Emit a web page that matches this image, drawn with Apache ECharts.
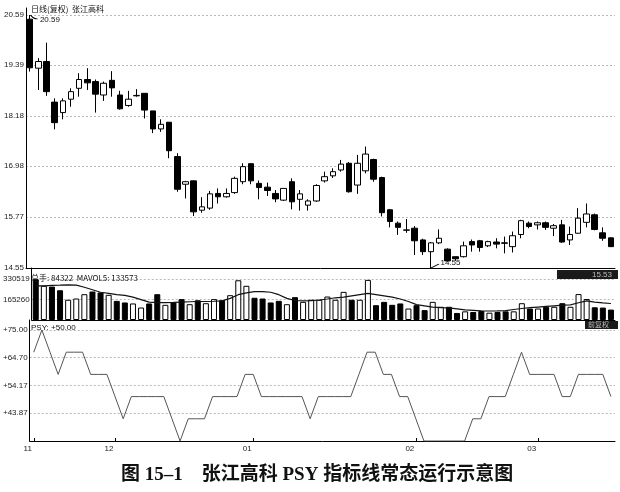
<!DOCTYPE html>
<html><head><meta charset="utf-8">
<script src="https://cdn.jsdelivr.net/npm/echarts@6/dist/echarts.min.js"></script>
<style>html,body{margin:0;padding:0;background:#fff}#c{width:620px;height:492px}</style>
</head><body><div id="c"></div>
<script>
// ---- data ----
const openPrices = [20.49,19.32,19.48,18.51,18.26,18.58,18.84,19.05,19.00,18.68,
19.03,18.68,18.43,18.66,18.72,18.30,17.87,18.03,17.21,16.55,
16.63,15.93,15.98,16.33,16.25,16.35,16.61,17.04,16.57,16.48,
16.33,16.17,16.61,16.19,16.05,16.15,16.63,16.75,16.89,17.05,
16.53,16.87,17.14,16.71,15.94,15.62,15.45,15.50,15.22,14.94,
15.15,15.00,14.82,14.82,15.18,15.20,15.08,15.17,15.15,15.06,
15.35,15.62,15.58,15.63,15.50,15.58,15.22,15.38,15.64,15.82,
15.39,15.27];
const closePrices = [19.33,19.48,18.76,18.02,18.54,18.76,19.05,18.97,18.70,18.96,
18.85,18.35,18.58,18.67,18.32,17.87,17.98,17.35,16.43,16.61,
15.89,16.01,16.32,16.25,16.33,16.69,16.97,16.63,16.47,16.40,
16.20,16.45,16.13,16.32,16.15,16.52,16.73,16.85,17.03,16.37,
17.05,17.27,16.67,15.87,15.66,15.52,15.46,15.20,14.94,15.15,
15.26,14.72,14.77,15.08,15.10,15.04,15.18,15.12,15.14,15.32,
15.68,15.54,15.63,15.52,15.56,15.17,15.35,15.74,15.84,15.47,
15.26,15.06];
const lowPrices = [19.24,18.80,18.66,17.86,18.10,18.40,18.64,18.80,18.26,18.54,
18.64,18.33,18.40,18.64,18.12,17.77,17.80,17.17,16.37,16.21,
15.79,15.87,15.94,16.09,16.23,16.32,16.55,16.55,16.19,16.27,
16.12,16.15,15.95,15.92,15.92,16.13,16.59,16.70,16.85,16.35,
16.32,16.81,16.61,15.78,15.52,15.34,15.39,14.86,14.86,14.55,
15.12,14.70,14.72,14.80,14.94,14.94,15.05,15.02,14.90,14.92,
15.26,15.50,15.47,15.46,15.31,15.15,15.10,15.37,15.52,15.45,
15.20,15.05];
const highPrices = [20.59,19.56,19.93,18.60,18.60,18.84,19.20,19.32,19.05,19.00,
19.25,18.78,18.78,18.82,18.72,18.30,18.10,18.03,17.29,16.63,
16.64,16.24,16.39,16.45,16.45,16.73,17.05,17.05,16.64,16.59,
16.41,16.45,16.69,16.41,16.19,16.55,16.85,16.93,17.13,17.08,
17.25,17.45,17.16,16.73,15.96,15.66,15.72,15.55,15.25,15.17,
15.47,15.02,14.82,15.18,15.23,15.22,15.20,15.26,15.30,15.42,
15.70,15.66,15.66,15.66,15.60,15.70,15.54,15.98,16.09,15.85,
15.52,15.28];
const volumes = [330519,277000,271000,241000,164000,174000,209000,231000,223000,204000,
155000,142000,134000,101000,134000,209000,123000,142000,169000,128000,
160000,136000,169000,160000,201000,322000,277000,180000,174000,142000,
155000,128000,185000,147000,164000,164000,190000,164000,228000,164000,
164000,325000,120000,147000,123000,134000,93000,120000,80000,147000,
107000,107000,57000,70000,65000,73000,59000,65000,70000,70000,
136000,93000,93000,107000,107000,136000,107000,210000,170000,103000,
100600,84322];
const mavol5 = [277000,276000,280000,282000,285000,283000,265000,245000,225000,215000,
205000,200000,185000,165000,145000,140000,140000,142000,145000,148000,
150000,150000,152000,155000,175000,205000,220000,230000,230000,225000,
205000,175000,158000,155000,157000,162000,170000,180000,185000,195000,
205000,215000,205000,195000,185000,170000,150000,125000,115000,105000,
100000,98000,90000,82000,78000,74000,73000,74000,76000,85000,
93000,100000,105000,110000,115000,120000,123000,140000,155000,145000,
138000,133573];
const psy = [66.67,75.00,66.67,58.33,66.67,66.67,66.67,58.33,58.33,58.33,
50.00,41.67,50.00,50.00,50.00,50.00,50.00,41.67,33.33,41.67,
41.67,41.67,50.00,50.00,50.00,50.00,58.33,58.33,50.00,50.00,
50.00,50.00,50.00,50.00,41.67,50.00,50.00,50.00,50.00,50.00,
58.33,66.67,66.67,58.33,58.33,50.00,50.00,41.67,33.33,33.33,
33.33,33.33,33.33,33.33,41.67,41.67,50.00,50.00,50.00,58.33,
66.67,58.33,58.33,58.33,58.33,50.00,50.00,58.33,58.33,58.33,
58.33,50.00];
const monthLabels = ['11','12','01','02','03'];
const monthStartIndex = [0,10,27,47,62];
const priceTicks = [20.59,19.39,18.18,16.98,15.77,14.55];
const volumeTicks = [330519,165260];
const psyTicks = [75.00,64.70,54.17,43.87];
const stockName = '张江高科';
const captionText = '图 15–1　张江高科 PSY 指标线常态运行示意图';

// ---- build ----
const categories = openPrices.map((_, i) => String(i));
const candleData = openPrices.map((o, i) => [o, closePrices[i], lowPrices[i], highPrices[i]]);
const isUp = i => closePrices[i] >= openPrices[i];
const volData = volumes.map((v, i) => ({value: v, itemStyle: {color: isUp(i) ? '#fff' : '#000'}}));
const hiIdx = highPrices.indexOf(Math.max(...highPrices));
const loIdx = lowPrices.indexOf(Math.min(...lowPrices));

const labelFont = {fontSize: 8, color: '#222', fontFamily: 'Liberation Sans'};
const dashed = {show: true, lineStyle: {color: '#b8b8b8', type: [2, 2], width: 1}};
const axisLineBlack = {show: true, lineStyle: {color: '#000', width: 1}};

const chart = echarts.init(document.getElementById('c'), null, {renderer: 'canvas'});
chart.setOption({
  animation: false,
  backgroundColor: '#fff',
  title: [
    {text: '日线(复权)  ' + stockName, left: 26, top: 0, textStyle: {fontSize: 8, fontWeight: 'normal', color: '#111', fontFamily: 'Noto Sans CJK SC'}},
    {text: '总手: ' + volumes[volumes.length - 1] + '  MAVOL5: ' + mavol5[mavol5.length - 1], left: 26, top: 269, textStyle: {fontSize: 8, fontWeight: 'normal', color: '#111', fontFamily: 'Noto Sans CJK SC'}},
    {text: 'PSY: +' + psy[psy.length - 1].toFixed(2), left: 26, top: 319, textStyle: {fontSize: 8, fontWeight: 'normal', color: '#111', fontFamily: 'Liberation Sans'}},
    {text: captionText, left: 116, top: 461, textStyle: {fontSize: 19, fontWeight: 'bold', color: '#111', fontFamily: "'Liberation Serif','Noto Sans CJK SC'"}}
  ],
  grid: [
    {left: 26, right: 5, top: 8, height: 260},
    {left: 26, right: 5, top: 268, height: 52},
    {left: 26, right: 5, top: 320, height: 121}
  ],
  xAxis: [0, 1, 2].map(g => ({
    type: 'category', gridIndex: g, data: categories, boundaryGap: true,
    axisLine: axisLineBlack,
    axisTick: g === 2 ? {show: true, alignWithLabel: true, inside: true, length: 3, lineStyle: {color: '#000'},
      interval: idx => monthStartIndex.includes(idx)} : {show: false},
    axisLabel: g === 2 ? {show: true, ...labelFont, margin: 4, padding: [0, 12, 0, 0],
      interval: idx => monthStartIndex.includes(idx),
      formatter: (v, idx) => monthLabels[monthStartIndex.indexOf(idx)] || ''} : {show: false},
    splitLine: {show: false}
  })),
  yAxis: [
    {type: 'value', gridIndex: 0, min: 14.55, max: 20.757, position: 'left',
      axisLine: axisLineBlack, axisTick: {show: false, customValues: priceTicks},
      axisLabel: {...labelFont, margin: 2, customValues: priceTicks, formatter: v => v.toFixed(2)},
      splitLine: dashed},
    {type: 'value', gridIndex: 1, min: 0, max: 421250, position: 'left',
      axisLine: axisLineBlack, axisTick: {show: false, customValues: volumeTicks},
      axisLabel: {...labelFont, margin: 2, customValues: volumeTicks, formatter: v => String(Math.round(v))},
      splitLine: dashed},
    {type: 'value', gridIndex: 2, min: 33.33, max: 78.75, position: 'left',
      axisLine: axisLineBlack, axisTick: {show: false, customValues: psyTicks},
      axisLabel: {...labelFont, margin: 2, customValues: psyTicks, formatter: v => '+' + v.toFixed(2)},
      splitLine: dashed}
  ],
  series: [
    {type: 'candlestick', xAxisIndex: 0, yAxisIndex: 0, data: candleData, barWidth: 6,
      itemStyle: {color: '#fff', color0: '#000', borderColor: '#000', borderColor0: '#000', borderWidth: 1},
      markPoint: {
        silent: true,
        data: [
          {coord: [hiIdx, highPrices[hiIdx]], value: highPrices[hiIdx],
            symbol: 'path://M0,0 Q4,6 10,6', symbolSize: [7, 4], symbolOffset: [4, 2],
            itemStyle: {color: 'none', borderColor: '#000', borderWidth: 1},
            label: {show: true, position: 'right', distance: 0, offset: [-1, 3], ...labelFont, color: '#111', formatter: p => p.value.toFixed(2)}},
          {coord: [loIdx, lowPrices[loIdx]], value: lowPrices[loIdx],
            symbol: 'path://M0,6 L10,0', symbolSize: [8, 4], symbolOffset: [4, -2],
            itemStyle: {color: 'none', borderColor: '#000', borderWidth: 1},
            label: {show: true, position: 'right', distance: 0, offset: [-2, -3], ...labelFont, color: '#111', formatter: p => p.value.toFixed(2)}}
        ]
      }
    },
    {type: 'bar', xAxisIndex: 1, yAxisIndex: 1, data: volData, barWidth: 6,
      itemStyle: {borderColor: '#000', borderWidth: 1}},
    {type: 'line', xAxisIndex: 1, yAxisIndex: 1, data: mavol5, symbol: 'none',
      lineStyle: {color: '#111', width: 1.2}},
    {type: 'line', xAxisIndex: 2, yAxisIndex: 2, data: psy, symbol: 'none',
      lineStyle: {color: '#555', width: 1}}
  ],
  graphic: [
    {type: 'rect', left: 557, top: 270, shape: {width: 61, height: 9}, style: {fill: '#1a1a1a'}},
    {type: 'text', left: 592, top: 270.5, style: {text: '15.53', fill: '#bbb', fontSize: 8, fontFamily: 'Liberation Sans'}},
    {type: 'rect', left: 585, top: 321, shape: {width: 33, height: 8}, style: {fill: '#1a1a1a'}},
    {type: 'text', left: 588, top: 321, style: {text: '前复权', fill: '#bbb', fontSize: 7, fontFamily: 'Noto Sans CJK SC'}}
  ]
});
</script>
</body></html>
